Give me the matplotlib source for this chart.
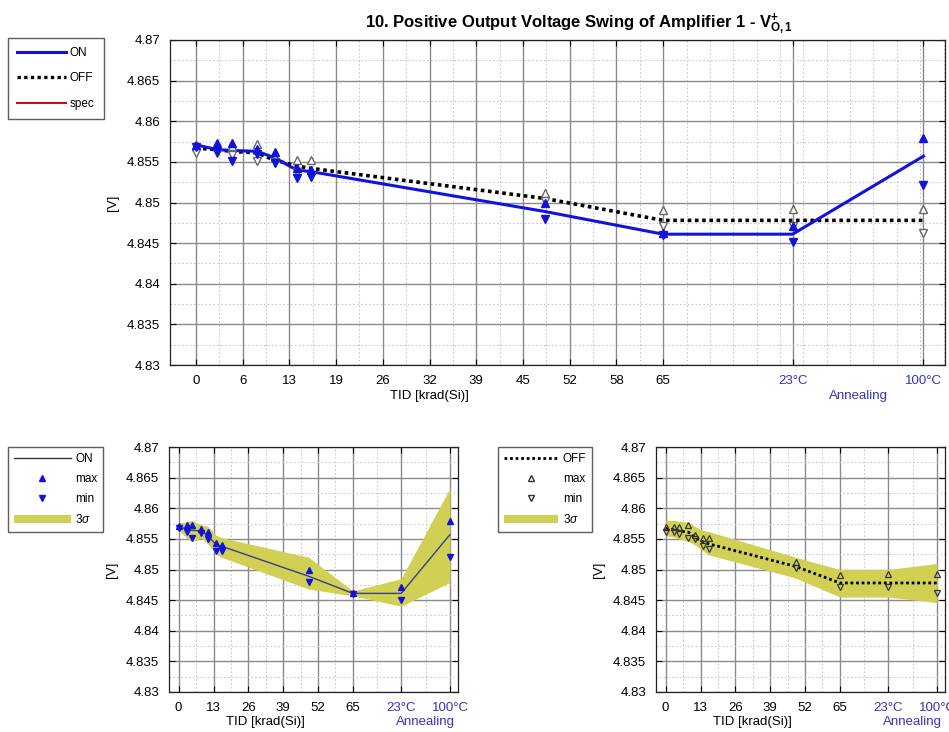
import numpy as np
import matplotlib
matplotlib.use('Agg')
import matplotlib.pyplot as plt
from matplotlib.patches import Patch
from matplotlib.lines import Line2D
from matplotlib.ticker import FixedLocator

plt.rcParams['font.family'] = ['Liberation Sans Narrow', 'Liberation Sans', 'DejaVu Sans']
plt.rcParams['mathtext.fontset'] = 'custom'
plt.rcParams['mathtext.rm'] = 'Liberation Sans'
plt.rcParams['mathtext.bf'] = 'Liberation Sans:bold'
plt.rcParams['mathtext.it'] = 'Liberation Sans:italic'

# ---------------- data ----------------
tid = [0, 3, 5, 8.5, 11, 14, 16, 48.5, 65, 83, 101.2]

on_mean = [4.8571, 4.8565, 4.8564, 4.8563, 4.8555, 4.8540, 4.8538, 4.8489, 4.8461, 4.8461, 4.8557]
on_max = [4.8571, 4.8573, 4.8573, 4.8566, 4.8562, 4.8543, 4.8540, 4.8500, 4.8462, 4.8471, 4.8580]
on_min = [4.8568, 4.8562, 4.8551, 4.8560, 4.8549, 4.8530, 4.8531, 4.8480, 4.8460, 4.8451, 4.8521]
on_upper = [4.8576, 4.8578, 4.8580, 4.8573, 4.8570, 4.8556, 4.8552, 4.8520, 4.8465, 4.8485, 4.8633]
on_lower = [4.8565, 4.8551, 4.8546, 4.8551, 4.8541, 4.8525, 4.8520, 4.8468, 4.8457, 4.8440, 4.8479]

off_mean = [4.8567, 4.8565, 4.8563, 4.8561, 4.8552, 4.8545, 4.8542, 4.8505, 4.8478, 4.8478, 4.8478]
off_max = [4.8570, 4.8570, 4.8570, 4.8572, 4.8556, 4.8552, 4.8552, 4.8512, 4.8491, 4.8492, 4.8492]
off_min = [4.8561, 4.8561, 4.8558, 4.8551, 4.8550, 4.8538, 4.8533, 4.8502, 4.8471, 4.8471, 4.8462]
off_upper = [4.8580, 4.8580, 4.8579, 4.8577, 4.8570, 4.8564, 4.8562, 4.8520, 4.8500, 4.8500, 4.8510]
off_lower = [4.8555, 4.8553, 4.8550, 4.8546, 4.8540, 4.8530, 4.8524, 4.8486, 4.8455, 4.8455, 4.8446]

top_ticks = [0, 6.5, 13, 19.5, 26, 32.5, 39, 45.5, 52, 58.5, 65, 83, 101.2]
top_labels = ['0', '6', '13', '19', '26', '32', '39', '45', '52', '58', '65', '23°C', '100°C']
bot_ticks = [0, 13, 26, 39, 52, 65, 83, 101.2]
bot_labels = ['0', '13', '26', '39', '52', '65', '23°C', '100°C']
y_ticks = [4.83, 4.835, 4.84, 4.845, 4.85, 4.855, 4.86, 4.865, 4.87]
y_labels = ['4.83', '4.835', '4.84', '4.845', '4.85', '4.855', '4.86', '4.865', '4.87']

title = r'10. Positive Output Voltage Swing of Amplifier 1 - V$\mathbf{^{+}_{O,1}}$'

# ---------------- style ----------------
BLUE = '#1212dd'
ANN = '#3434b8'
BAND = '#d0d054'
GRIDC = '#8a8a8a'
FS = 9.5

W, H = 949, 732
fig = plt.figure(figsize=(W / 100, H / 100), dpi=100)


def px_axes(l, r, t, b):
    return fig.add_axes([l / W, 1 - b / H, (r - l) / W, (b - t) / H])


def style_axes(ax, ticks, labels, minor):
    ax.set_xlim(-3.6, 104.2)
    ax.set_ylim(4.83, 4.87)
    ax.set_xticks(ticks)
    ax.set_xticklabels(labels, fontsize=FS)
    for lab in ax.get_xticklabels():
        if '°C' in lab.get_text():
            lab.set_color(ANN)
    ax.set_yticks(y_ticks)
    ax.set_yticklabels(y_labels, fontsize=FS)
    ax.xaxis.set_minor_locator(FixedLocator(minor))
    ax.yaxis.set_minor_locator(FixedLocator(np.arange(4.8325, 4.87, 0.005)))
    ax.grid(True, which='major', color=GRIDC, lw=1.0, ls='-')
    ax.grid(True, which='minor', color='#c8c8c8', lw=0.8, ls=(0, (1.5, 2)))
    ax.set_axisbelow(True)
    ax.tick_params(which='both', direction='in', length=4, top=True, right=True, pad=7)
    ax.tick_params(which='minor', length=0)
    for s in ax.spines.values():
        s.set_color('#222222')
        s.set_linewidth(0.9)
    ax.set_ylabel('[V]', fontsize=FS, labelpad=6)


def under_labels(ax, dy):
    ax.annotate('TID [krad(Si)]', xy=(32.5, 0), xycoords=('data', 'axes fraction'),
                xytext=(0, dy), textcoords='offset points', ha='center', va='top', fontsize=FS)
    ax.annotate('Annealing', xy=((83 + 101.2) / 2, 0), xycoords=('data', 'axes fraction'),
                xytext=(0, dy), textcoords='offset points', ha='center', va='top',
                fontsize=FS, color=ANN)


# ---------------- top plot ----------------
ax = px_axes(170, 945, 40, 365)
minor_top = [v for v in np.arange(3.25, 104.2, 3.25)]
style_axes(ax, top_ticks, top_labels, minor_top)
ax.plot(tid, off_mean, color='black', lw=2.6, ls=(0, (1, 1)), zorder=3)
ax.plot(tid, on_mean, color=BLUE, lw=2.2, zorder=4)
ax.plot(tid, off_max, ls='none', marker='^', ms=6, mfc='white', mec='#666666', mew=1.0, zorder=5)
ax.plot(tid, off_min, ls='none', marker='v', ms=6, mfc='white', mec='#666666', mew=1.0, zorder=5)
ax.plot(tid, on_max, ls='none', marker='^', ms=6, color=BLUE, zorder=6)
ax.plot(tid, on_min, ls='none', marker='v', ms=6, color=BLUE, zorder=6)
under_labels(ax, -18)
ax.set_title(title, fontsize=12, fontweight='bold', pad=9, x=0.528,
             family=['Liberation Sans', 'DejaVu Sans'])

handles = [Line2D([], [], color=BLUE, lw=2.2),
           Line2D([], [], color='black', lw=2.4, ls=(0, (1, 1))),
           Line2D([], [], color='#c01020', lw=1.5)]
fig.legend(handles, ['ON', 'OFF', 'spec'], loc='upper left', bbox_to_anchor=(8 / W, 1 - 38 / H),
           fontsize=8.5, frameon=True, fancybox=False, edgecolor='#333333', handlelength=4.2,
           borderaxespad=0, labelspacing=1.15, handletextpad=0.3, borderpad=0.75)

# ---------------- bottom left (ON) ----------------
bminor = [6.5, 19.5, 32.5, 45.5, 58.5, 74, 92.1]
ax1 = px_axes(169, 458, 447, 692)
style_axes(ax1, bot_ticks, bot_labels, bminor)
ax1.fill_between(tid, on_lower, on_upper, color=BAND, lw=0, zorder=2)
ax1.plot(tid, on_mean, color='#3c3c8c', lw=1.0, zorder=3)
ax1.plot(tid, on_max, ls='none', marker='^', ms=4.5, color=BLUE, zorder=4)
ax1.plot(tid, on_min, ls='none', marker='v', ms=4.5, color=BLUE, zorder=4)
under_labels(ax1, -17)
h1 = [Line2D([], [], color='#333333', lw=1.0),
      Line2D([], [], ls='none', marker='^', ms=4.5, color=BLUE),
      Line2D([], [], ls='none', marker='v', ms=4.5, color=BLUE),
      Patch(facecolor=BAND, edgecolor='none')]
fig.legend(h1, ['ON', 'max', 'min', r'3$\sigma$'], loc='upper left',
           bbox_to_anchor=(8 / W, 1 - 447 / H), fontsize=8.5, frameon=True, fancybox=False,
           edgecolor='#333333', handlelength=4.8, borderaxespad=0, labelspacing=0.68,
           handletextpad=0.4, borderpad=0.5)

# ---------------- bottom right (OFF) ----------------
ax2 = px_axes(656, 945, 447, 692)
style_axes(ax2, bot_ticks, bot_labels, bminor)
ax2.fill_between(tid, off_lower, off_upper, color=BAND, lw=0, zorder=2)
ax2.plot(tid, off_mean, color='black', lw=2.0, ls=(0, (1, 1)), zorder=3)
ax2.plot(tid, off_max, ls='none', marker='^', ms=5, mfc='none', mec='#333333', mew=0.9, zorder=4)
ax2.plot(tid, off_min, ls='none', marker='v', ms=5, mfc='none', mec='#333333', mew=0.9, zorder=4)
under_labels(ax2, -17)
h2 = [Line2D([], [], color='black', lw=2.0, ls=(0, (1, 1))),
      Line2D([], [], ls='none', marker='^', ms=5, mfc='none', mec='#333333'),
      Line2D([], [], ls='none', marker='v', ms=5, mfc='none', mec='#333333'),
      Patch(facecolor=BAND, edgecolor='none')]
fig.legend(h2, ['OFF', 'max', 'min', r'3$\sigma$'], loc='upper left',
           bbox_to_anchor=(498 / W, 1 - 447 / H), fontsize=8.5, frameon=True, fancybox=False,
           edgecolor='#333333', handlelength=4.6, borderaxespad=0, labelspacing=0.68,
           handletextpad=0.4, borderpad=0.5)

fig.savefig('out.png', dpi=100, facecolor='white')
